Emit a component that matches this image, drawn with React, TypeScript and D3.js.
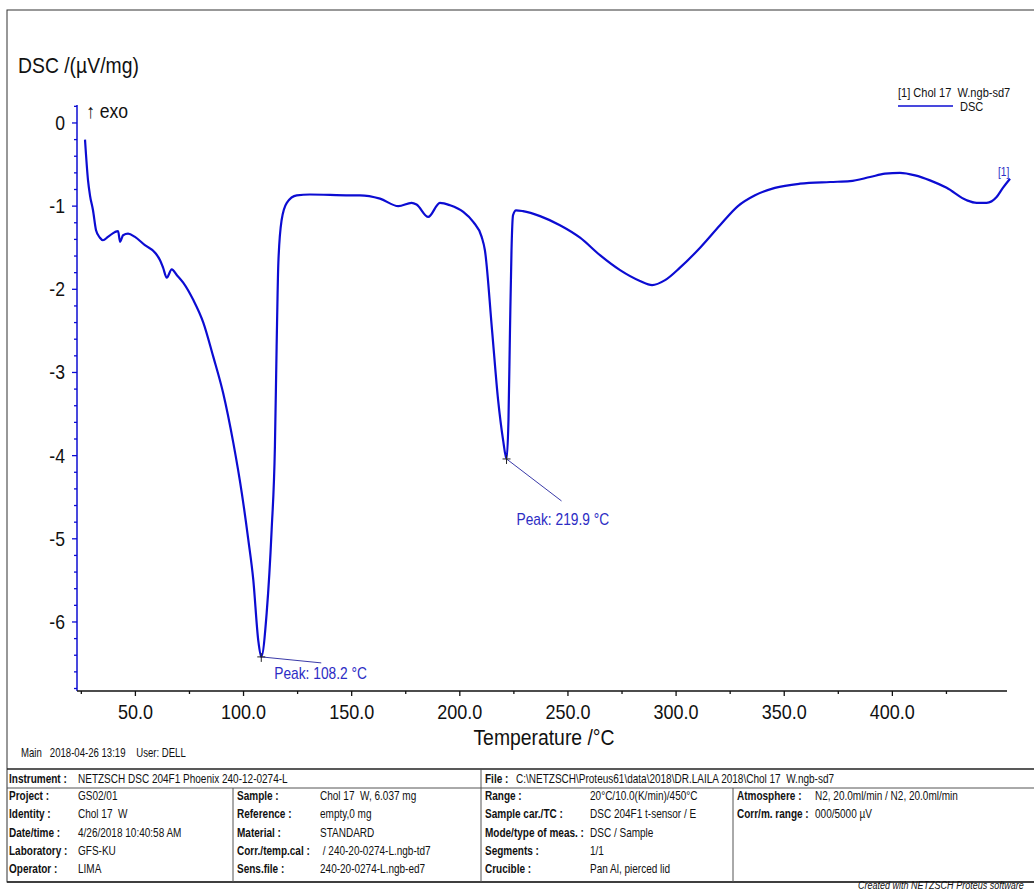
import React from 'react';
import * as d3 from 'd3';

// DSC curve: temperature (°C) and signal (µV/mg)
const temps = [26.7, 28.1, 29.0, 30.4, 31.8, 33.6, 35.0, 37.3, 40.6, 42.0, 42.9, 44.3, 46.6, 49.8, 54.4, 59.1, 61.4, 62.8, 64.5, 66.8, 69.2, 72.1, 76.8, 81.4, 86.0, 90.6, 95.3, 99.2, 102.2, 104.5, 106.8, 108.2, 110.7, 113.0, 114.5, 115.3, 116.1, 117.6, 120.0, 124.6, 130.7, 149.2, 153.8, 163.1, 171.6, 177.7, 180.0, 185.4, 190.8, 195.5, 201.6, 206.2, 210.1, 211.6, 214.9, 217.7, 220.0, 221.6, 222.5, 223.2, 223.9, 224.6, 226.0, 229.2, 237.1, 246.3, 255.6, 264.8, 274.1, 283.3, 288.9, 294.9, 301.8, 311.1, 320.3, 328.6, 336.5, 345.7, 357.3, 371.2, 380.4, 389.7, 396.6, 403.5, 410.5, 417.4, 425.1, 434.4, 439.0, 443.6, 448.2, 451.1, 454.4];
const dsc = [-0.20, -0.69, -0.87, -1.05, -1.29, -1.38, -1.41, -1.37, -1.31, -1.30, -1.43, -1.35, -1.33, -1.37, -1.47, -1.56, -1.65, -1.74, -1.86, -1.76, -1.83, -1.92, -2.13, -2.40, -2.81, -3.25, -3.85, -4.45, -5.01, -5.49, -6.22, -6.42, -5.89, -4.89, -3.90, -2.69, -1.68, -1.17, -0.96, -0.87, -0.86, -0.87, -0.87, -0.91, -1.00, -0.96, -0.98, -1.13, -0.96, -0.99, -1.07, -1.19, -1.37, -1.53, -2.49, -3.33, -3.81, -4.04, -3.57, -2.49, -1.53, -1.11, -1.05, -1.06, -1.12, -1.23, -1.38, -1.59, -1.77, -1.90, -1.95, -1.89, -1.74, -1.50, -1.23, -1.00, -0.87, -0.78, -0.73, -0.71, -0.70, -0.65, -0.61, -0.60, -0.63, -0.69, -0.78, -0.93, -0.96, -0.96, -0.89, -0.78, -0.67];

const peakTemps = [108.2, 219.9];
const peakLabels = ['Peak: 108.2 °C', 'Peak: 219.9 °C'];

const xTickLabels = [50, 100, 150, 200, 250, 300, 350, 400];
const yTickLabels = [0, -1, -2, -3, -4, -5, -6];

const instrument = ['Instrument :', 'NETZSCH DSC 204F1 Phoenix 240-12-0274-L'];
const fileInfo = ['File :', 'C:\\NETZSCH\\Proteus61\\data\\2018\\DR.LAILA 2018\\Chol 17  W.ngb-sd7'];
const col1 = [['Project :', 'GS02/01'], ['Identity :', 'Chol 17  W'], ['Date/time :', '4/26/2018 10:40:58 AM'], ['Laboratory :', 'GFS-KU'], ['Operator :', 'LIMA']];
const col2 = [['Sample :', 'Chol 17  W, 6.037 mg'], ['Reference :', 'empty,0 mg'], ['Material :', 'STANDARD'], ['Corr./temp.cal :', ' / 240-20-0274-L.ngb-td7'], ['Sens.file :', '240-20-0274-L.ngb-ed7']];
const col3 = [['Range :', '20°C/10.0(K/min)/450°C'], ['Sample car./TC :', 'DSC 204F1 t-sensor / E'], ['Mode/type of meas. :', 'DSC / Sample'], ['Segments :', '1/1'], ['Crucible :', 'Pan Al, pierced lid']];
const col4 = [['Atmosphere :', 'N2, 20.0ml/min / N2, 20.0ml/min'], ['Corr/m. range :', '000/5000 µV']];

const width = 1034;
const height = 892;
const font = '"Liberation Sans", Arial, sans-serif';
const blue = '#0c0cd2';

// squeezed text, the original screenshot is compressed horizontally
const Txt = ({ x, y, size, sx = 0.88, anchor = 'start', fill = '#111', weight = 'normal', italic = false, children }: any) => (
  <text transform={`translate(${x},${y}) scale(${sx},1)`} fontSize={size} fontFamily={font}
    textAnchor={anchor} fill={fill} fontWeight={weight} fontStyle={italic ? 'italic' : 'normal'}
    style={{ whiteSpace: 'pre' }}>
    {children}
  </text>
);

export default function App() {
  const x = d3.scaleLinear().domain([23, 453]).range([77, 1007]);
  const y = d3.scaleLinear().domain([-6.83, 0.216]).range([691, 105]);

  const data = temps.map((t, i) => ({ t, v: dsc[i] }));
  const line = d3.line<any>()
    .x(d => x(d.t))
    .y(d => y(d.v))
    .curve(d3.curveMonotoneX);

  const peaks = peakTemps.map((pt, i) => {
    const near = data.filter(d => Math.abs(d.t - pt) < 5);
    const p = near[d3.minIndex(near, d => d.v)];
    return { ...p, label: peakLabels[i] };
  });
  const peakOffsets = [{ lx: 60, ly: 6, tx: 13, ty: 22 }, { lx: 55, ly: 42, tx: 10, ty: 66 }];

  const yMinor = d3.range(-34, 2).map(i => i * 0.2);
  const xMinor = d3.range(25, 426, 25);

  const rowY = [800, 818, 837, 855, 873];
  const tableCols = [
    { rows: col1, lx: 9, vx: 78 },
    { rows: col2, lx: 237, vx: 320 },
    { rows: col3, lx: 485, vx: 590 },
    { rows: col4, lx: 737, vx: 815 },
  ];
  const tsx = 0.77;

  return (
    <svg width={width} height={height} style={{ position: 'absolute', left: 0, top: 0, background: '#fff' }}>
      <rect x={7} y={10} width={1060} height={872} fill="none" stroke="#333" strokeWidth={1} />

      <Txt x={18} y={73} size={22}>DSC /(µV/mg)</Txt>
      <Txt x={86} y={118} size={20}>↑ exo</Txt>

      {/* y axis */}
      <line x1={77} x2={77} y1={105} y2={691} stroke={blue} strokeWidth={1.5} />
      {yMinor.map((v, i) => {
        const major = Math.abs(v - Math.round(v)) < 1e-6;
        return <line key={i} x1={77} x2={major ? 72 : 74} y1={y(v)} y2={y(v)} stroke={blue} strokeWidth={1.3} />;
      })}
      {yTickLabels.map(v => (
        <Txt key={v} x={65} y={y(v) + 7} size={20} anchor="end">{v}</Txt>
      ))}

      {/* x axis */}
      <line x1={77} x2={1007} y1={691} y2={691} stroke="#111" strokeWidth={1.3} />
      {xMinor.map(t => (
        <line key={t} x1={x(t)} x2={x(t)} y1={691} y2={t % 50 === 0 ? 696 : 694} stroke="#111" strokeWidth={1.3} />
      ))}
      {xTickLabels.map(t => (
        <Txt key={t} x={x(t)} y={719} size={20} anchor="middle" sx={0.9}>{t.toFixed(1)}</Txt>
      ))}
      <Txt x={544} y={745} size={22} anchor="middle">Temperature /°C</Txt>

      {/* curve */}
      <path d={line(data) || ''} fill="none" stroke={blue} strokeWidth={2.2} strokeLinejoin="round" />

      {peaks.map((p, i) => {
        const px = x(p.t);
        const py = y(p.v);
        const o = peakOffsets[i];
        return (
          <g key={i}>
            <line x1={px} y1={py} x2={px + o.lx} y2={py + o.ly} stroke="#3a3aa8" strokeWidth={1} />
            <line x1={px - 4} x2={px + 4} y1={py} y2={py} stroke="#222" strokeWidth={1} />
            <line x1={px} x2={px} y1={py - 4} y2={py + 5} stroke="#222" strokeWidth={1} />
            <Txt x={px + o.tx} y={py + o.ty} size={16} sx={0.86} fill="#2c2cc4">{p.label}</Txt>
          </g>
        );
      })}

      {/* legend */}
      <Txt x={898} y={97} size={13} sx={0.85}>[1] Chol 17  W.ngb-sd7</Txt>
      <line x1={898} x2={953} y1={106} y2={106} stroke={blue} strokeWidth={1.5} />
      <Txt x={960} y={111} size={13} sx={0.85}>DSC</Txt>
      <Txt x={998} y={176} size={12} sx={0.85} fill="#2c2cc4">[1]</Txt>

      <Txt x={21} y={757} size={12} sx={0.8}>Main   2018-04-26 13:19    User: DELL</Txt>

      {/* info table */}
      <line x1={7} x2={1034} y1={769} y2={769} stroke="#222" strokeWidth={1.6} />
      <line x1={7} x2={1034} y1={788} y2={788} stroke="#555" strokeWidth={1} />
      <line x1={7} x2={1034} y1={882} y2={882} stroke="#222" strokeWidth={1.4} />
      <line x1={481} x2={481} y1={769} y2={882} stroke="#555" strokeWidth={1} />
      <line x1={233} x2={233} y1={788} y2={882} stroke="#555" strokeWidth={1} />
      <line x1={733} x2={733} y1={788} y2={882} stroke="#555" strokeWidth={1} />

      <Txt x={9} y={783} size={13} sx={tsx} weight="bold">{instrument[0]}</Txt>
      <Txt x={78} y={783} size={13} sx={tsx}>{instrument[1]}</Txt>
      <Txt x={485} y={783} size={13} sx={tsx} weight="bold">{fileInfo[0]}</Txt>
      <Txt x={516} y={783} size={13} sx={tsx}>{fileInfo[1]}</Txt>
      {tableCols.map((c, ci) => c.rows.map((r, ri) => (
        <g key={`${ci}-${ri}`}>
          <Txt x={c.lx} y={rowY[ri]} size={13} sx={tsx} weight="bold">{r[0]}</Txt>
          <Txt x={c.vx} y={rowY[ri]} size={13} sx={tsx}>{r[1]}</Txt>
        </g>
      )))}
      <Txt x={858} y={889} size={11} sx={0.82} italic>Created with NETZSCH Proteus software</Txt>
    </svg>
  );
}
